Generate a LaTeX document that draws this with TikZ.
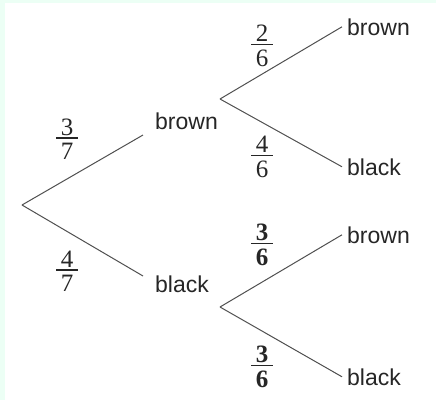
\documentclass[tikz,border=0pt]{standalone}
\usepackage{fontspec}
\setmainfont{Liberation Serif}
\newfontfamily\labfont{Liberation Sans}
\definecolor{mint}{RGB}{236,255,245}
\definecolor{linegray}{RGB}{80,80,80}
\newcommand\myfr[2]{\vbox{\offinterlineskip\halign{\hfil##\hfil\cr\hbox{#1}\cr\noalign{\kern2pt}\vrule width 22pt height 1.4pt depth 0pt\cr\noalign{\kern4.5pt}\hbox{#2}\cr}}}
\tikzset{
  word/.style={font=\labfont\fontsize{23}{27}\selectfont, anchor=base west, inner sep=0pt, text=black!85},
  fracnode/.style={font=\fontsize{25}{29}\selectfont, inner sep=0pt, text=black!85},
  branch/.style={draw=linegray, line width=1pt}
}
\begin{document}
\begin{tikzpicture}[x=1pt,y=-1pt]
\useasboundingbox (0,0) rectangle (436,400);
\fill[mint] (0,0) rectangle (436,400);
\fill[white] (5,3) rectangle (436,400);
% vertices
\coordinate (R) at (22,205);
\coordinate (V1) at (220,99);
\coordinate (V2) at (220,307);
\coordinate (e1) at (143,135);
\coordinate (e2) at (143,276);
% labels
\node[word] (b1) at (155,129) {brown};
\node[word] (k1) at (155,292) {black};
\node[word] (bb) at (347,35) {brown};
\node[word] (bk) at (347,175) {black};
\node[word] (kb) at (347,243) {brown};
\node[word] (kk) at (347,385) {black};
% branches
\draw[branch] (R) -- (e1);
\draw[branch] (R) -- (e2);
\draw[branch] (V1) -- ([xshift=-5pt]bb.west);
\draw[branch] (V1) -- ([xshift=-5pt]bk.west);
\draw[branch] (V2) -- ([xshift=-5pt]kb.west);
\draw[branch] (V2) -- ([xshift=-5pt]kk.west);
% fractions
\node[fracnode] (f1) at (67,139) {\myfr{3}{7}};
\node[fracnode] (f2) at (67,271) {\myfr{4}{7}};
\node[fracnode] (f3) at (262,46) {\myfr{2}{6}};
\node[fracnode] (f4) at (262,157) {\myfr{4}{6}};
\node[fracnode] (f5) at (262,245) {\myfr{\bfseries 3}{\bfseries 6}};
\node[fracnode] (f6) at (262,367) {\myfr{\bfseries 3}{\bfseries 6}};
\end{tikzpicture}
\end{document}
